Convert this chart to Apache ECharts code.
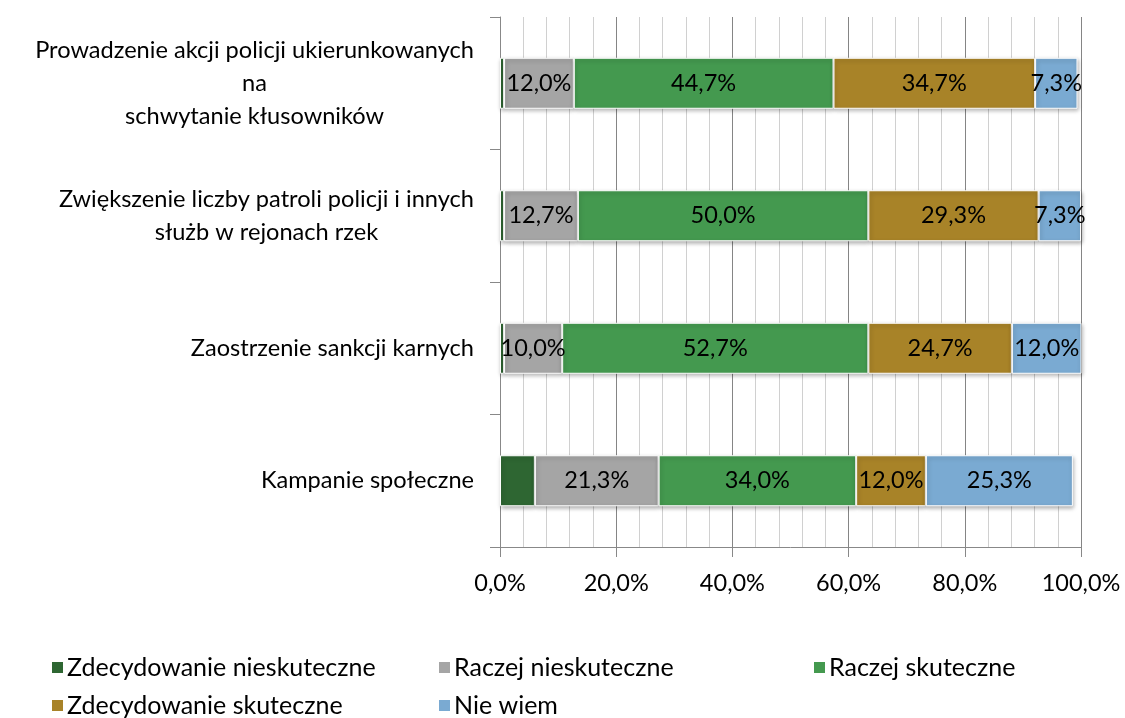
<!DOCTYPE html>
<html><head><meta charset="utf-8">
<script src="https://cdn.jsdelivr.net/npm/echarts@6/dist/echarts.min.js"></script>
<style>html,body{margin:0;padding:0;background:#fff}#c{width:1125px;height:718px}</style>
</head><body><div id="c"></div>
<script>
const categories = [
  "Prowadzenie akcji policji ukierunkowanych\nna\nschwytanie kłusowników",
  "Zwiększenie liczby patroli policji i innych\nsłużb w rejonach rzek",
  "Zaostrzenie sankcji karnych",
  "Kampanie społeczne"
];
const seriesNames = ["Zdecydowanie nieskuteczne","Raczej nieskuteczne","Raczej skuteczne","Zdecydowanie skuteczne","Nie wiem"];
const zdecNieskuteczne = [0.7, 0.7, 0.7, 6.0];
const raczejNieskuteczne = [12.0, 12.7, 10.0, 21.3];
const raczejSkuteczne = [44.7, 50.0, 52.7, 34.0];
const zdecSkuteczne = [34.7, 29.3, 24.7, 12.0];
const nieWiem = [7.3, 7.3, 12.0, 25.3];
const xTicks = [0, 20, 40, 60, 80, 100];
const colors = ["#2E6632", "#A5A5A5", "#44994F", "#A88328", "#7AAAD2"];

const FONT = "Lato";
const fmt = v => v.toFixed(1).replace('.', ',') + '%';
const values = [zdecNieskuteczne, raczejNieskuteczne, raczejSkuteczne, zdecSkuteczne, nieWiem];

const series = seriesNames.map((name, i) => ({
  name, type: 'bar', stack: 'total', barWidth: 51,
  data: values[i],
  itemStyle: { color: colors[i], borderColor: '#fff', borderWidth: 1,
    shadowBlur: 4, shadowColor: 'rgba(0,0,0,0.3)', shadowOffsetX: 1, shadowOffsetY: 2 },
  label: { show: i > 0, position: 'inside', color: '#000', fontFamily: FONT, fontSize: 23.5,
    formatter: p => fmt(p.value) },
  emphasis: { disabled: true }
}));

const legendPos = [[50, 655], [437, 655], [812, 655], [50, 693], [437, 693]];
const legends = seriesNames.map((n, i) => ({
  data: [n], left: legendPos[i][0], top: legendPos[i][1], padding: 0,
  itemWidth: 13, itemHeight: 13, itemGap: 0, icon: 'rect',
  textStyle: { fontFamily: FONT, fontSize: 25, color: '#000', padding: [0, 0, 0, -2] },
  selectedMode: false
}));

const chart = echarts.init(document.getElementById('c'), null, { renderer: 'canvas' });
chart.setOption({
  animation: false,
  color: colors,
  grid: { left: 500, right: 44, top: 17, bottom: 171, containLabel: false },
  legend: legends,
  xAxis: {
    type: 'value', min: 0, max: 100, interval: 20,
    axisLine: { show: true, lineStyle: { color: '#888', width: 1 } },
    axisTick: { show: true, length: 10, lineStyle: { color: '#888' } },
    axisLabel: { fontFamily: FONT, fontSize: 23.5, color: '#000', margin: 24, formatter: v => fmt(v) },
    splitLine: { show: true, lineStyle: { color: '#858585', width: 1 } },
    minorTick: { show: false, splitNumber: 5 },
    minorSplitLine: { show: true, lineStyle: { color: '#d0d0d0', width: 1 } }
  },
  yAxis: {
    type: 'category', inverse: true, data: categories,
    axisLine: { show: true, lineStyle: { color: '#888' } },
    axisTick: { show: true, length: 10, lineStyle: { color: '#888' } },
    axisLabel: {
      margin: 26, color: '#000',
      formatter: v => v.split('\n').map(l => '{c|' + l + '}').join('\n'),
      rich: { c: { align: 'center', fontFamily: FONT, fontSize: 23.6, lineHeight: 33, color: '#000' } }
    }
  },
  series
});
</script></body></html>
